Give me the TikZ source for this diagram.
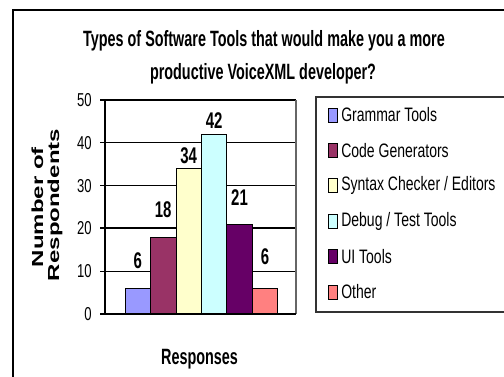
\documentclass[tikz,border=0pt]{standalone}
\usepackage{fontspec}
\setmainfont{Liberation Sans}
% condensed / stretched cuts of Liberation Sans for the chart texts
\newfontfamily\titlefont{Liberation Sans}[FakeStretch=0.65]
\newfontfamily\valuefont{Liberation Sans}[FakeStretch=0.66]
\newfontfamily\tickfont{Liberation Sans}[FakeStretch=0.7]
\newfontfamily\legendfont{Liberation Sans}[FakeStretch=0.72]
\newfontfamily\axisfont{Liberation Sans}[FakeStretch=1.5]

\definecolor{grammarc}{HTML}{9999FF}
\definecolor{codegenc}{HTML}{993366}
\definecolor{syntaxc}{HTML}{FFFFCC}
\definecolor{debugc}{HTML}{CCFFFF}
\definecolor{uitoolsc}{HTML}{660066}
\definecolor{otherc}{HTML}{FF8080}

\tikzset{
  titletext/.style={font=\titlefont\bfseries\fontsize{16.6}{19}\selectfont, anchor=base, inner sep=0pt},
  valuetext/.style={font=\valuefont\bfseries\fontsize{17}{19}\selectfont, anchor=base, inner sep=0pt},
  ticktext/.style={font=\tickfont\fontsize{14}{16}\selectfont, anchor=east, inner sep=0pt},
  legendtext/.style={font=\legendfont\fontsize{14.6}{17}\selectfont, anchor=west, inner sep=0pt},
  axistitle/.style={font=\axisfont\bfseries\fontsize{12}{14}\selectfont, anchor=base, inner sep=0pt, rotate=90},
  barbox/.style={draw=black, line width=0.6pt},
  keybox/.style={draw=black, line width=0.6pt, minimum width=6.75pt, minimum height=10.5pt, inner sep=0pt},
  gridthin/.style={line width=0.75pt},
  gridbold/.style={line width=1.6pt},
}

\begin{document}
\begin{tikzpicture}[x=0.75pt, y=-0.75pt]
  \useasboundingbox (0,0) rectangle (504,376);
  \fill[white] (0,0) rectangle (504,376);

  % outer chart frame (left and top edges)
  \begin{scope}
    \clip (0,0) rectangle (504,376);
    \draw[line width=1.5pt] (13,390) -- (13,10) -- (520,10);
    % legend frame
    \draw[line width=0.9pt, draw=black!80] (316,97) rectangle (520,312);
  \end{scope}

  % title
  \node[titletext] (title1) at (264,46) {Types of Software Tools that would make you a more};
  \node[titletext] (title2) at (263,79) {productive VoiceXML developer?};

  % plot area: gridlines and ticks (value v sits at y = 314 - 4.28 v)
  \foreach \v in {10,30,40} {
    \draw[gridthin] (100,{314-4.28*\v}) -- (296,{314-4.28*\v});
  }
  \foreach \v in {20,50} {
    \draw[gridbold] (100,{314-4.28*\v}) -- (296,{314-4.28*\v});
  }
  \draw[line width=0.9pt, draw=black!60] (296,100) -- (296,314);
  \draw[line width=0.9pt] (105,100) -- (105,314);

  % tick labels
  \foreach \v in {0,10,20,30,40,50} {
    \node[ticktext] (tick\v) at (92,{314-4.28*\v}) {\v};
  }

  % bars
  \foreach \i/\v/\c/\b in {0/6/grammarc/268, 1/18/codegenc/217, 2/34/syntaxc/163,
                           3/42/debugc/128, 4/21/uitoolsc/205, 5/6/otherc/264} {
    \draw[barbox, fill=\c] ({125+25.45*\i},314) rectangle ({125+25.45*(\i+1)},{314-4.28*\v});
    \node[valuetext] (val\i) at ({125+25.45*(\i+0.5)},\b) {\v};
  }
  \draw[line width=1.2pt] (100,314) -- (296,314);

  % axis titles
  \node[axistitle] (ylab1) at (43,207) {Number of};
  \node[axistitle] (ylab2) at (59,205) {Respondents};
  \node[titletext] (xlab) at (199.5,364) {Responses};

  % legend entries
  \foreach \j/\c/\t in {0/grammarc/{Grammar Tools}, 1/codegenc/{Code Generators},
                        2/syntaxc/{Syntax Checker / Editors}, 3/debugc/{Debug / Test Tools},
                        4/uitoolsc/{UI Tools}, 5/otherc/{Other}} {
    \node[keybox, fill=\c] (key\j) at (332.5,{115+35.4*\j}) {};
    \node[legendtext] (keytext\j) at (341,{115+35.4*\j}) {\t};
  }
\end{tikzpicture}
\end{document}
